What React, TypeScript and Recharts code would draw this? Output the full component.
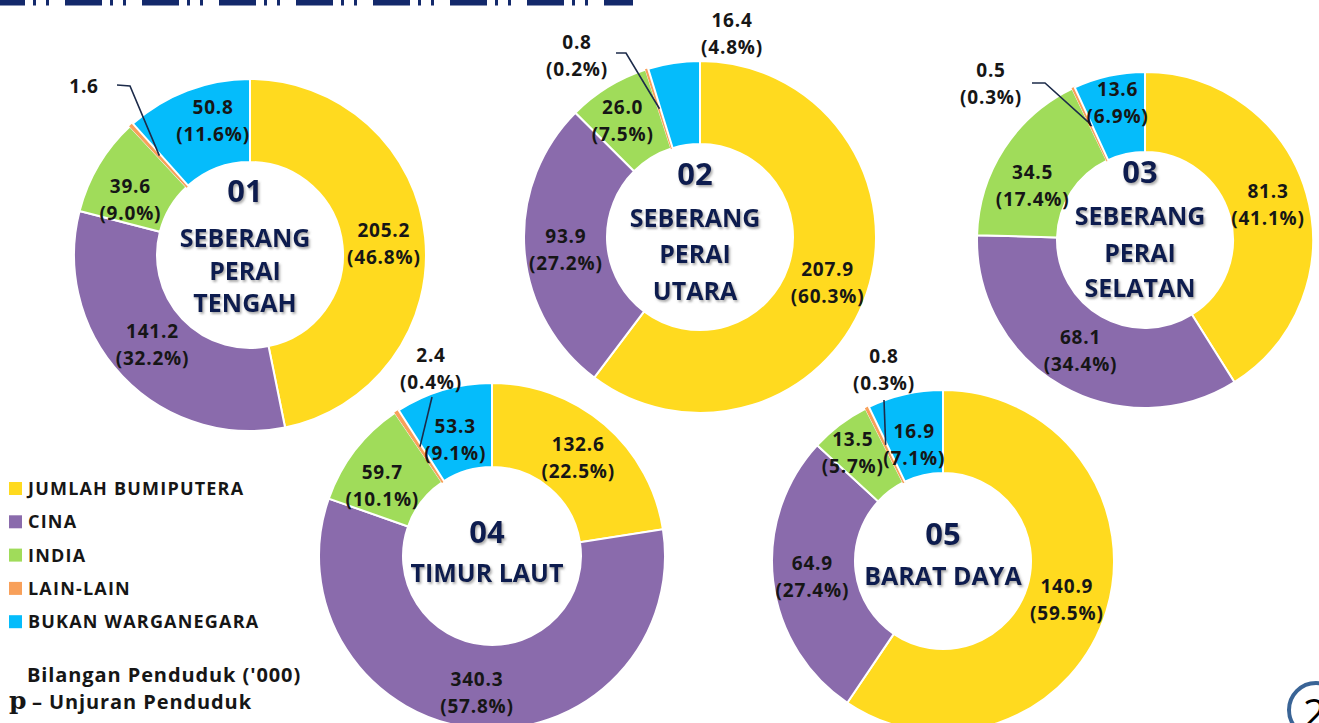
import React from 'react';
import { PieChart, Pie, Cell } from 'recharts';

// ---------- DATA ----------
const categories = ['JUMLAH BUMIPUTERA', 'CINA', 'INDIA', 'LAIN-LAIN', 'BUKAN WARGANEGARA'];
const colors = ['#FFDA1F', '#8A6BAC', '#A0DC5A', '#F8A05A', '#05BCFB'];

const seberangPeraiTengah = [205.2, 141.2, 39.6, 1.6, 50.8];
const seberangPeraiTengahPct = [46.8, 32.2, 9.0, 0.4, 11.6];

const seberangPeraiUtara = [207.9, 93.9, 26.0, 0.8, 16.4];
const seberangPeraiUtaraPct = [60.3, 27.2, 7.5, 0.2, 4.8];

const seberangPeraiSelatan = [81.3, 68.1, 34.5, 0.5, 13.6];
const seberangPeraiSelatanPct = [41.1, 34.4, 17.4, 0.3, 6.9];

const timurLaut = [132.6, 340.3, 59.7, 2.4, 53.3];
const timurLautPct = [22.5, 57.8, 10.1, 0.4, 9.1];

const baratDaya = [140.9, 64.9, 13.5, 0.8, 16.9];
const baratDayaPct = [59.5, 27.4, 5.7, 0.3, 7.1];

const noteUnit = "Bilangan Penduduk ('000)";
const noteProj = '– Unjuran Penduduk';

// ---------- LAYOUT ----------
type Outside = { index: number; lx: number; ly: number; pts?: number[][]; pct: boolean };
type District = {
  code: string; name: string[]; values: number[]; pct: number[];
  cx: number; cy: number; inner: number; outer: number;
  adj: (number[] | null)[]; outside: Outside[];
  textDx: number; codeY: number; nameY: number[];
};

const districts: District[] = [
  {
    code: '01', name: ['SEBERANG', 'PERAI', 'TENGAH'], values: seberangPeraiTengah, pct: seberangPeraiTengahPct,
    cx: 250, cy: 255, inner: 93, outer: 176,
    adj: [[0, 2], [0, -3], [-4, 14], null, [11, -8]],
    outside: [{ index: 3, lx: -166, ly: -168, pts: [[-133, -170], [-120, -169]], pct: false }],
    textDx: -5, codeY: -53, nameY: [-8, 25, 57],
  },
  {
    code: '02', name: ['SEBERANG', 'PERAI', 'UTARA'], values: seberangPeraiUtara, pct: seberangPeraiUtaraPct,
    cx: 700, cy: 237, inner: 93, outer: 176,
    adj: [[0, 3], [0, 3], [-7, -1], null, null],
    outside: [
      { index: 3, lx: -123, ly: -181, pts: [[-84, -184], [-74, -184]], pct: true },
      { index: 4, lx: 32, ly: -203, pct: true },
    ],
    textDx: -5, codeY: -52, nameY: [-10, 26, 63],
  },
  {
    code: '03', name: ['SEBERANG', 'PERAI', 'SELATAN'], values: seberangPeraiSelatan, pct: seberangPeraiSelatanPct,
    cx: 1145, cy: 240, inner: 88, outer: 168,
    adj: [[0, 0], [-1, 0], [-5, 16], null, [0, -12]],
    outside: [{ index: 3, lx: -154, ly: -156, pts: [[-113, -157], [-100, -157]], pct: true }],
    textDx: -5, codeY: -57, nameY: [-15, 22, 57],
  },
  {
    code: '04', name: ['TIMUR LAUT'], values: timurLaut, pct: timurLautPct,
    cx: 492, cy: 556, inner: 89, outer: 173,
    adj: [[1, 2], [-3, 7], [-6, 10], null, [0, 10]],
    outside: [{ index: 3, lx: -61, ly: -187, pts: [[-60, -159]], pct: true }],
    textDx: -5, codeY: -13, nameY: [26],
  },
  {
    code: '05', name: ['BARAT DAYA'], values: baratDaya, pct: baratDayaPct,
    cx: 943, cy: 561, inner: 88, outer: 171,
    adj: [[0, 1], [-2, 1], [-12, -5], null, [0, 10]],
    outside: [{ index: 3, lx: -59, ly: -191, pts: [[-59, -161]], pct: true }],
    textDx: 0, codeY: -16, nameY: [24],
  },
];

const RAD = Math.PI / 180;
const FONT = "'Open Sans', 'Noto Sans', sans-serif";
const NAVY = '#0F1F4F';

function makeLabel(d: District) {
  return (props: any) => {
    const { cx, cy, midAngle, innerRadius, outerRadius, index } = props;
    const r = (innerRadius + outerRadius) / 2;
    const px = cx + r * Math.cos(-midAngle * RAD);
    const py = cy + r * Math.sin(-midAngle * RAD);
    const out = d.outside.find((o) => o.index === index);
    let lx: number;
    let ly: number;
    let line: React.ReactNode = null;
    let showPct = true;
    if (out) {
      lx = cx + out.lx;
      ly = cy + out.ly;
      showPct = out.pct;
      if (out.pts) {
        const pts = [...out.pts.map((p) => [cx + p[0], cy + p[1]]), [px, py]];
        line = (
          <polyline points={pts.map((p) => p.join(',')).join(' ')} fill="none" stroke="#1c2b4a" strokeWidth={1.6} />
        );
      }
    } else {
      const a = d.adj[index] || [0, 0];
      lx = px + a[0];
      ly = py + a[1];
    }
    const v = d.values[index].toFixed(1);
    const pc = `(${d.pct[index].toFixed(1)}%)`;
    return (
      <g key={`l-${d.code}-${index}`}>
        {line}
        <text textAnchor="middle" fontFamily={FONT} fontWeight={700} fontSize={19} letterSpacing={0.8} fill="#161616">
          {showPct ? (
            <>
              <tspan x={lx} y={ly - 7}>{v}</tspan>
              <tspan x={lx} y={ly + 20}>{pc}</tspan>
            </>
          ) : (
            <tspan x={lx} y={ly + 6}>{v}</tspan>
          )}
        </text>
      </g>
    );
  };
}

export default function App() {
  return (
    <div style={{ position: 'absolute', left: 0, top: 0, width: 1319, height: 723, background: '#fff', overflow: 'hidden' }}>
      <PieChart width={1319} height={723} margin={{ top: 0, right: 0, bottom: 0, left: 0 }}>
        <defs>
          <filter id="tshadow" x="-20%" y="-20%" width="140%" height="160%">
            <feDropShadow dx="1.5" dy="2" stdDeviation="1.3" floodColor="#6b6b6b" floodOpacity="0.55" />
          </filter>
        </defs>
        {/* top decorative bar */}
        <line x1={0} y1={2.5} x2={633} y2={2.5} stroke="#13296B" strokeWidth={6} strokeDasharray="37 8 3 10 3 16" strokeDashoffset={12} />
        {districts.map((d) => (
          <Pie
            key={d.code}
            data={d.values.map((v, i) => ({ name: categories[i], value: v }))}
            dataKey="value"
            nameKey="name"
            cx={d.cx}
            cy={d.cy}
            innerRadius={d.inner}
            outerRadius={d.outer}
            startAngle={90}
            endAngle={-270}
            stroke="#ffffff"
            strokeWidth={2}
            isAnimationActive={false}
            labelLine={false}
            label={makeLabel(d)}
          >
            {d.values.map((_, i) => (
              <Cell key={i} fill={colors[i]} stroke={i === 3 ? colors[i] : '#ffffff'} strokeWidth={i === 3 ? 1.2 : 2} />
            ))}
          </Pie>
        ))}
        {districts.map((d) => (
          <g key={`c-${d.code}`} filter="url(#tshadow)" fontFamily={FONT} fontWeight={700} fill={NAVY} textAnchor="middle">
            <text x={d.cx + d.textDx} y={d.cy + d.codeY} fontSize={31}>{d.code}</text>
            {d.name.map((n, i) => (
              <text key={i} x={d.cx + d.textDx} y={d.cy + d.nameY[i]} fontSize={25}>{n}</text>
            ))}
          </g>
        ))}
        {/* legend */}
        <g fontFamily={FONT} fontWeight={700} fill="#161616">
          {categories.map((c, i) => (
            <g key={c}>
              <rect x={9} y={482 + i * 33.3} width={13} height={13} fill={colors[i]} />
              <text x={28} y={495 + i * 33.3} fontSize={18} letterSpacing={1.2}>{c}</text>
            </g>
          ))}
          <text x={27} y={682} fontSize={20} letterSpacing={0.9}>{noteUnit}</text>
          <text x={9} y={709} fontSize={25} fontFamily="'DejaVu Serif', 'Liberation Serif', serif" fontWeight={700}>p</text>
          <text x={32} y={709} fontSize={20} letterSpacing={0.9}>{noteProj}</text>
        </g>
        {/* page number */}
        <circle cx={1316} cy={710} r={27} fill="none" stroke="#3A6496" strokeWidth={4} />
        <text x={1303} y={728} fontSize={40} fontFamily={FONT} fill="#000">2</text>
      </PieChart>
    </div>
  );
}
